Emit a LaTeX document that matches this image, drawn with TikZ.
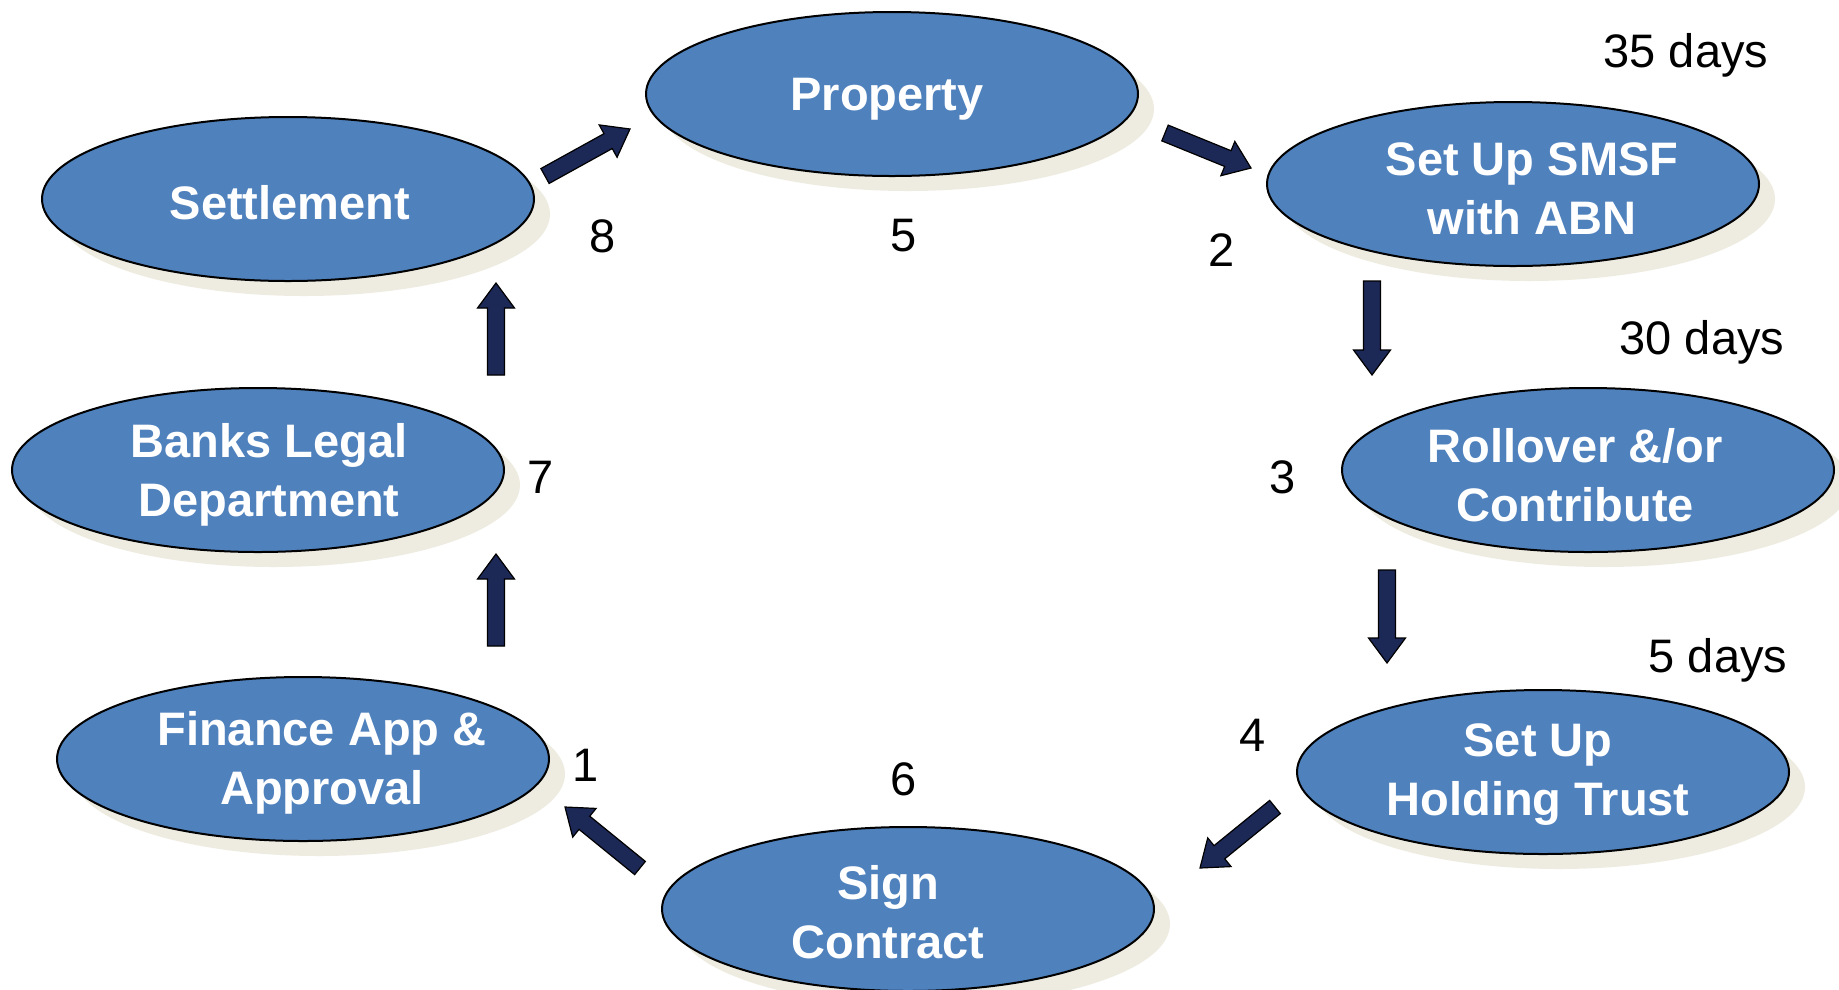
\documentclass[tikz,border=0pt]{standalone}
\usepackage{fontspec}
\setmainfont{Liberation Sans}
\usetikzlibrary{calc,shadows,shapes.geometric}
\definecolor{eblue}{HTML}{4F81BD}
\definecolor{shadowc}{HTML}{EEECE1}
\definecolor{navy}{HTML}{1C2856}
\tikzset{
 ell/.style={ellipse, draw=black, line width=2pt, fill=eblue, minimum width=492pt, minimum height=164pt, inner sep=0pt,
   drop shadow={shadow xshift=16pt, shadow yshift=-15pt, fill=shadowc, opacity=1, draw=none}},
 etxt/.style={text=white, font=\fontsize{47}{59}\selectfont\bfseries, align=center, inner sep=0pt},
 num/.style={font=\fontsize{47}{52}\selectfont, inner sep=0pt},
 arrbody/.style={fill=navy, draw=black, line width=1.2pt, line join=miter},
 arrshadow/.style={fill=black, opacity=0.22, draw=none},
}
\newcommand\blockarr[2]{%
 \coordinate (ba-c) at ($(#2)!25pt!(#1)$);
 \path[arrshadow, shift={(4,5)}] ($(#1)!8.5pt!-90:(#2)$) -- ($(ba-c)!8.5pt!90:(#1)$) -- ($(ba-c)!18.5pt!90:(#1)$) -- (#2) -- ($(ba-c)!18.5pt!-90:(#1)$) -- ($(ba-c)!8.5pt!-90:(#1)$) -- ($(#1)!8.5pt!90:(#2)$) -- cycle;
 \path[arrbody] ($(#1)!8.5pt!-90:(#2)$) -- ($(ba-c)!8.5pt!90:(#1)$) -- ($(ba-c)!18.5pt!90:(#1)$) -- (#2) -- ($(ba-c)!18.5pt!-90:(#1)$) -- ($(ba-c)!8.5pt!-90:(#1)$) -- ($(#1)!8.5pt!90:(#2)$) -- cycle;
}
\begin{document}
\begin{tikzpicture}[x=1pt,y=-1pt]
\useasboundingbox[fill=white] (0,0) rectangle (1839,989);
% ellipses
\node[ell] (prop) at (892,94) {};
\node[ell] (smsf) at (1513,184) {};
\node[ell] (roll) at (1588,470) {};
\node[ell] (hold) at (1543,772) {};
\node[ell] (sign) at (908,909) {};
\node[ell] (fin) at (303,759) {};
\node[ell] (bank) at (258,470) {};
\node[ell] (sett) at (288,199) {};
% texts
\node[etxt] (propt) at ($(prop)+(-5,5)$) {Property};
\node[etxt] (smsft) at ($(smsf)+(19,5)$) {Set Up SMSF\\with ABN};
\node[etxt] (rollt) at ($(roll)+(-13,5)$) {Rollover \&/or\\Contribute};
\node[etxt] (holdt) at ($(hold)+(-5,3)$) {Set Up\\Holding Trust};
\node[etxt] (signt) at ($(sign)+(-20,3)$) {Sign\\Contract};
\node[etxt] (fint) at ($(fin)+(19,4)$) {Finance App \&\\Approval};
\node[etxt] (bankt) at ($(bank)+(11,5)$) {Banks Legal\\Department};
\node[etxt] (settt) at ($(sett)+(2,4)$) {Settlement};
% numbers
\node[num] (n8) at (603,236) {8};
\node[num] (n5) at (904,236) {5};
\node[num] (n2) at (1222,250) {2};
\node[num] (n3) at (1283,477) {3};
\node[num] (n7) at (541,477) {7};
\node[num] (n1) at (586,765) {1};
\node[num] (n4) at (1253,735) {4};
\node[num] (n6) at (904,779) {6};
\node[num] (d35) at (1686,55) {35 days};
\node[num] (d30) at (1702,342) {30 days};
\node[num] (d5) at (1718,660) {5 days};
% arrow coordinates
\coordinate (a1s) at (545,176); \coordinate (a1e) at (630,129);
\coordinate (a2s) at (1165,133); \coordinate (a2e) at (1251,168);
\coordinate (a3s) at (1372,281); \coordinate (a3e) at (1372,375);
\coordinate (a4s) at (1387,570); \coordinate (a4e) at (1387,663);
\coordinate (a5s) at (1275,807); \coordinate (a5e) at (1200,868);
\coordinate (a6s) at (640,868); \coordinate (a6e) at (565,807);
\coordinate (a7s) at (496,646); \coordinate (a7e) at (496,554);
\coordinate (a8s) at (496,375); \coordinate (a8e) at (496,283);
\blockarr{a1s}{a1e}
\blockarr{a2s}{a2e}
\blockarr{a3s}{a3e}
\blockarr{a4s}{a4e}
\blockarr{a5s}{a5e}
\blockarr{a6s}{a6e}
\blockarr{a7s}{a7e}
\blockarr{a8s}{a8e}
\end{tikzpicture}
\end{document}
